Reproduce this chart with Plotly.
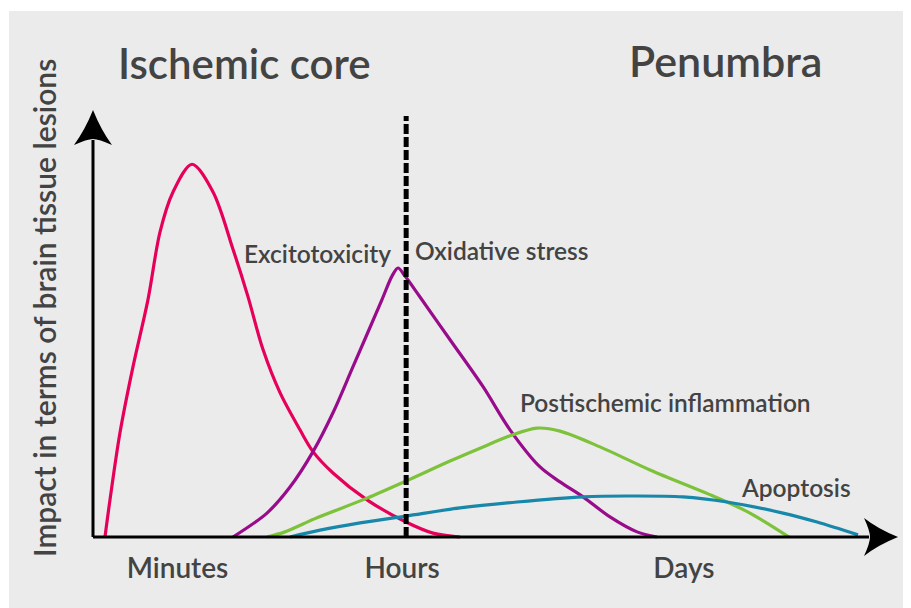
import plotly.graph_objects as go

# ---- data (x: relative time units, y: relative impact units) ----
excito_x = [1.49, 2.11, 3.35, 4.97, 6.83, 8.32, 9.94, 12.30, 14.91, 17.39, 19.25, 21.12, 23.23, 25.71, 27.33, 29.81, 34.04, 38.88, 42.24, 45.59]
excito_y = [0, 8.7, 24.4, 39.9, 55.6, 71.4, 80.8, 87.3, 80.8, 67.4, 56.3, 43.9, 33.8, 25.1, 20.0, 15.0, 8.7, 3.5, 0.9, 0]

oxid_x = [17.39, 21.61, 24.47, 27.33, 29.81, 32.30, 35.90, 37.14, 37.89, 38.76, 40.62, 44.35, 48.45, 51.80, 55.53, 58.01, 60.87, 64.22, 67.58, 70.06]
oxid_y = [0, 5.6, 11.7, 20.0, 29.1, 39.9, 55.6, 61.1, 63.0, 61.1, 56.2, 46.2, 35.2, 25.1, 16.4, 12.9, 9.4, 4.7, 1.2, 0]

inflam_x = [21.61, 23.85, 27.83, 34.04, 38.88, 44.35, 48.45, 51.80, 55.16, 58.01, 62.98, 69.19, 77.52, 81.61, 86.46]
inflam_y = [0, 1.2, 4.5, 9.1, 13.1, 17.8, 21.1, 23.7, 25.5, 24.8, 21.1, 15.7, 9.2, 5.6, 0]

apopt_x = [24.47, 28.20, 33.17, 38.88, 45.59, 52.67, 60.87, 66.34, 73.29, 78.76, 85.71, 89.94, 95.03]
apopt_y = [0, 1.6, 3.3, 4.9, 6.8, 8.2, 9.4, 9.6, 9.4, 8.2, 5.6, 3.5, 0.5]

series_names = ["Excitotoxicity", "Oxidative stress", "Postischemic inflammation", "Apoptosis"]
series_colors = ["#e6005a", "#980c8c", "#7dc23a", "#1787aa"]

phase_ticks = [10.5, 38.4, 73.4]
phase_labels = ["Minutes", "Hours", "Days"]

hours_divider_x = 38.9
hours_divider_top = 98.6

axis_x_end = 100
axis_y_end = 100

TXT = "#434343"
FONT = "Lato"

fig = go.Figure()
for xs, ys, name, col in zip([excito_x, oxid_x, inflam_x, apopt_x],
                             [excito_y, oxid_y, inflam_y, apopt_y],
                             series_names, series_colors):
    fig.add_trace(go.Scatter(x=xs, y=ys, mode="lines", name=name,
                             line=dict(color=col, width=3.2, shape="spline", smoothing=0.9),
                             hoverinfo="skip", showlegend=False))

shapes = []
# gray panel background
shapes.append(dict(type="rect", xref="paper", yref="paper", x0=-0.0603, x1=1.02, y0=-0.1, y1=1.0965,
                   fillcolor="#ebebeb", line=dict(width=0), layer="below"))
# dashed divider at "Hours"
shapes.append(dict(type="line", xref="x", yref="y", x0=hours_divider_x, x1=hours_divider_x,
                   y0=0, y1=hours_divider_top, line=dict(color="black", width=5, dash="10px,3px")))
# axis lines
shapes.append(dict(type="line", xref="x", yref="y", x0=0, x1=0, y0=0, y1=axis_y_end - 7,
                   line=dict(color="black", width=3)))
shapes.append(dict(type="line", xref="x", yref="y", x0=0, x1=axis_x_end - 3.6, y0=0, y1=0,
                   line=dict(color="black", width=3)))
# arrowheads (pixel-sized, anchored at axis ends)
shapes.append(dict(type="path", xref="x", yref="y", xsizemode="pixel", ysizemode="pixel",
                   xanchor=0, yanchor=axis_y_end,
                   path="M 0 0 Q -8 -20 -19 -35 Q -6 -29 0 -29 Q 6 -29 19 -35 Q 8 -20 0 0 Z",
                   fillcolor="black", line=dict(width=0)))
shapes.append(dict(type="path", xref="x", yref="y", xsizemode="pixel", ysizemode="pixel",
                   xanchor=axis_x_end, yanchor=0,
                   path="M 0 0 Q -20 8 -34 19 Q -28 6 -28 0 Q -28 -6 -34 -19 Q -20 -8 0 0 Z",
                   fillcolor="black", line=dict(width=0)))

annotations = []
def lab(text, x, y, size, xref="x", yref="y", angle=0):
    annotations.append(dict(text=text, x=x, y=y, xref=xref, yref=yref, showarrow=False,
                            xanchor="center", yanchor="middle", textangle=angle,
                            font=dict(family=FONT, size=size, color=TXT, weight=600)))

lab("Ischemic core", 18.88, 111.0, 42)
lab("Penumbra", 78.63, 111.6, 43)
lab(series_names[0], 27.89, 66.5, 24.5)
lab(series_names[1], 50.81, 67.2, 24.5)
lab(series_names[2], 71.06, 31.6, 24.5)
lab(series_names[3], 87.33, 11.7, 24.5)
lab("Impact in terms of brain tissue lesions", -0.0189, 0.5118, 30, xref="paper", yref="paper", angle=-90)

fig.update_layout(
    width=911, height=608,
    margin=dict(l=52, r=13, t=52, b=48),
    paper_bgcolor="white", plot_bgcolor="rgba(0,0,0,0)",
    shapes=shapes, annotations=annotations,
    xaxis=dict(range=[-4.099, 100.99], anchor="free", position=0.061,
               showline=False, showgrid=False, zeroline=False, ticks="",
               tickvals=phase_ticks, ticktext=phase_labels, ticklabelstandoff=12,
               tickfont=dict(family=FONT, size=28, color=TXT, weight=600),
               automargin=False, fixedrange=True),
    yaxis=dict(range=[-7.26, 111.71], visible=False, fixedrange=True),
    showlegend=False,
)

fig.write_html("out.html")
